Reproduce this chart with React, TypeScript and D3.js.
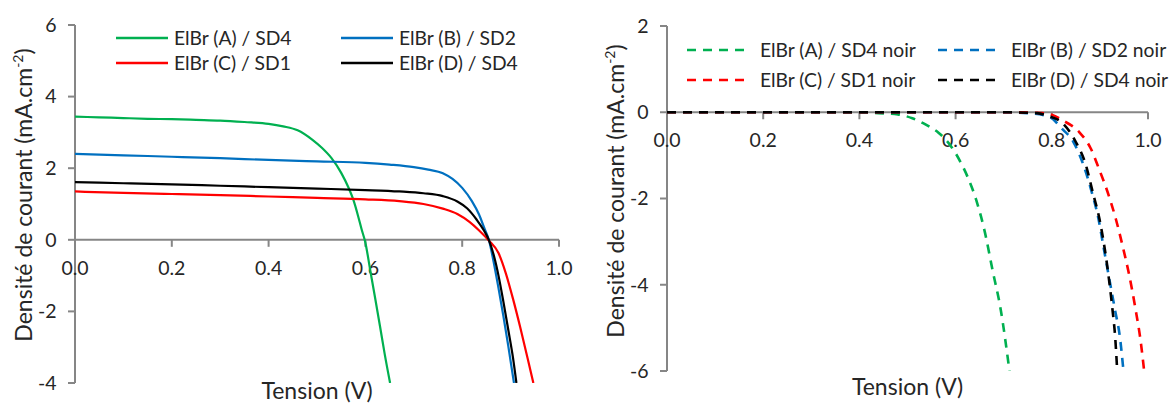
import React from "react";
import * as d3 from "d3";

// ---------- Data (left: under illumination) ----------
const voltA = [0, 0.05, 0.1, 0.15, 0.2, 0.25, 0.3, 0.35, 0.4, 0.43, 0.46, 0.49, 0.51, 0.53, 0.55, 0.565, 0.575, 0.585, 0.592, 0.6, 0.61, 0.62, 0.63, 0.64, 0.651];
const currA = [3.44, 3.42, 3.40, 3.38, 3.37, 3.35, 3.33, 3.29, 3.24, 3.17, 3.06, 2.80, 2.57, 2.28, 1.87, 1.46, 1.12, 0.66, 0.3, -0.08, -0.85, -1.62, -2.4, -3.2, -4.0];

const voltB = [0, 0.1, 0.2, 0.3, 0.4, 0.5, 0.6, 0.65, 0.7, 0.73, 0.76, 0.78, 0.8, 0.82, 0.835, 0.845, 0.855, 0.865, 0.875, 0.885, 0.895, 0.907];
const currB = [2.40, 2.36, 2.32, 2.28, 2.23, 2.19, 2.15, 2.10, 2.03, 1.96, 1.86, 1.70, 1.45, 1.08, 0.70, 0.35, 0.0, -0.62, -1.35, -2.12, -2.95, -4.0];

const voltC = [0, 0.1, 0.2, 0.3, 0.4, 0.5, 0.6, 0.67, 0.72, 0.76, 0.79, 0.815, 0.835, 0.855, 0.875, 0.89, 0.905, 0.92, 0.935, 0.947];
const currC = [1.35, 1.31, 1.28, 1.25, 1.21, 1.17, 1.13, 1.08, 1.00, 0.87, 0.72, 0.50, 0.26, -0.02, -0.37, -0.93, -1.65, -2.45, -3.3, -4.0];

const voltD = [0, 0.1, 0.2, 0.3, 0.4, 0.5, 0.6, 0.67, 0.72, 0.76, 0.79, 0.81, 0.83, 0.845, 0.855, 0.865, 0.875, 0.885, 0.895, 0.905, 0.912];
const currD = [1.61, 1.58, 1.55, 1.51, 1.47, 1.43, 1.39, 1.35, 1.30, 1.22, 1.07, 0.88, 0.56, 0.26, 0.0, -0.42, -1.0, -1.72, -2.5, -3.3, -4.0];

// ---------- Data (right: dark) ----------
const voltAd = [0, 0.1, 0.2, 0.3, 0.4, 0.44, 0.48, 0.51, 0.54, 0.565, 0.59, 0.61, 0.625, 0.643, 0.66, 0.677, 0.694, 0.712];
const currAd = [0, 0, 0, 0, 0, -0.02, -0.05, -0.14, -0.3, -0.48, -0.78, -1.15, -1.5, -2.04, -2.74, -3.67, -4.59, -6.0];

const voltBd = [0, 0.2, 0.4, 0.6, 0.7, 0.76, 0.795, 0.821, 0.845, 0.866, 0.883, 0.897, 0.907, 0.917, 0.931, 0.942, 0.949];
const currBd = [0, 0, 0, 0, 0, -0.03, -0.11, -0.38, -0.69, -1.23, -1.85, -2.47, -3.09, -3.71, -4.56, -5.25, -6.0];

const voltCd = [0, 0.2, 0.4, 0.6, 0.7, 0.78, 0.8, 0.823, 0.857, 0.881, 0.898, 0.916, 0.933, 0.947, 0.961, 0.974, 0.985, 0.992];
const currCd = [0, 0, 0, 0, 0, -0.02, -0.06, -0.19, -0.46, -0.84, -1.31, -1.85, -2.47, -3.09, -3.78, -4.56, -5.33, -6.0];

const voltDd = [0, 0.2, 0.4, 0.6, 0.7, 0.77, 0.788, 0.823, 0.85, 0.871, 0.885, 0.899, 0.909, 0.917, 0.926, 0.932, 0.936];
const currDd = [0, 0, 0, 0, 0, -0.02, -0.07, -0.26, -0.69, -1.23, -1.85, -2.47, -3.09, -3.71, -4.56, -5.25, -6.0];

const xTicks = [0, 0.2, 0.4, 0.6, 0.8, 1.0];
const yTicksLeft = [6, 4, 2, 0, -2, -4];
const yTicksRight = [2, 0, -2, -4, -6];

const namesLeft = ["ElBr (A) / SD4", "ElBr (B) / SD2", "ElBr (C) / SD1", "ElBr (D) / SD4"];
const namesRight = ["ElBr (A) / SD4 noir", "ElBr (B) / SD2 noir", "ElBr (C) / SD1 noir", "ElBr (D) / SD4 noir"];
const colors = ["#00B050", "#0070C0", "#FF0000", "#000000"];

const FONT = "Lato, 'Open Sans', sans-serif";
const AXIS = "#868686";
const TEXT = "#262626";

function zip(v: number[], j: number[]) {
  return v.map((x, i) => [x, j[i]] as [number, number]);
}

type PanelProps = {
  id: string;
  xRange: [number, number];
  yDomain: [number, number];
  yRange: [number, number];
  yTicks: number[];
  series: [number, number][][];
  dashed: boolean;
  names: string[];
  legend: { cols: number[]; rows: number[]; lineLen: number; textGap: number };
  yTitle: { x: number; y: number };
  xTitle: { y: number };
};

function Panel(p: PanelProps) {
  const x = d3.scaleLinear().domain([0, 1]).range(p.xRange);
  const y = d3.scaleLinear().domain(p.yDomain).range(p.yRange);
  const line = d3
    .line<[number, number]>()
    .x((d) => x(d[0]))
    .y((d) => y(d[1]))
    .curve(d3.curveMonotoneX);
  const x0 = x(0);
  const y0 = y(0);
  const fmt = d3.format(".1f");
  const dash = p.dashed ? "9,7" : undefined;
  const sw = p.dashed ? 2.6 : 2.2;
  return (
    <g>
      <defs>
        <clipPath id={p.id}>
          <rect x={p.xRange[0]} y={p.yRange[1]} width={p.xRange[1] - p.xRange[0] + 30} height={p.yRange[0] - p.yRange[1]} />
        </clipPath>
      </defs>
      {/* y axis */}
      <line x1={x0} x2={x0} y1={p.yRange[0]} y2={p.yRange[1]} stroke={AXIS} strokeWidth={2} />
      {p.yTicks.map((t) => (
        <g key={"yt" + t}>
          <line x1={x0 - 7} x2={x0} y1={y(t)} y2={y(t)} stroke={AXIS} strokeWidth={2} />
          <text x={x0 - 18.5} y={y(t)} dy="0.35em" textAnchor="end" fontSize={19.5} fontFamily={FONT} fill={TEXT}>
            {t}
          </text>
        </g>
      ))}
      {/* x axis */}
      <line x1={x0} x2={x(1)} y1={y0} y2={y0} stroke={AXIS} strokeWidth={2} />
      {xTicks.map((t) => (
        <g key={"xt" + t}>
          <line x1={x(t)} x2={x(t)} y1={y0} y2={y0 + 7} stroke={AXIS} strokeWidth={2} />
          <text x={x(t)} y={y0 + 35} textAnchor="middle" fontSize={19.5} fontFamily={FONT} fill={TEXT}>
            {fmt(t)}
          </text>
        </g>
      ))}
      {/* series */}
      <g clipPath={`url(#${p.id})`}>
        {p.series.map((s, i) => (
          <path key={"s" + i} d={line(s) || ""} fill="none" stroke={colors[i]} strokeWidth={sw} strokeDasharray={dash} strokeLinejoin="round" />
        ))}
      </g>
      {/* legend */}
      {p.names.map((n, i) => {
        const cx = p.legend.cols[i % 2];
        const cy = p.legend.rows[Math.floor(i / 2)];
        return (
          <g key={"lg" + i}>
            <line x1={cx} x2={cx + p.legend.lineLen} y1={cy} y2={cy} stroke={colors[i]} strokeWidth={2.6} strokeDasharray={dash} />
            <text x={cx + p.legend.lineLen + p.legend.textGap} y={cy} dy="0.35em" fontSize={19.3} fontFamily={FONT} fill={TEXT}>
              {n}
            </text>
          </g>
        );
      })}
      {/* titles */}
      <text transform={`translate(${p.yTitle.x},${p.yTitle.y}) rotate(-90)`} textAnchor="middle" fontSize={23} fontFamily={FONT} fill={TEXT}>
        Densité de courant (mA.cm
        <tspan fontSize={14} dy={-9}>-2</tspan>
        <tspan dy={9}>)</tspan>
      </text>
      <text x={(p.xRange[0] + p.xRange[1]) / 2} y={p.xTitle.y} textAnchor="middle" fontSize={23} fontFamily={FONT} fill={TEXT}>
        Tension (V)
      </text>
    </g>
  );
}

export default function App() {
  const leftSeries = [zip(voltA, currA), zip(voltB, currB), zip(voltC, currC), zip(voltD, currD)];
  const rightSeries = [zip(voltAd, currAd), zip(voltBd, currBd), zip(voltCd, currCd), zip(voltDd, currDd)];
  return (
    <svg width={1172} height={405} style={{ position: "absolute", left: 0, top: 0, background: "#fff" }}>
      <rect width={1172} height={405} fill="#fff" />
      <Panel
        id="clipL"
        xRange={[75, 559]}
        yDomain={[-4, 6]}
        yRange={[383, 25]}
        yTicks={yTicksLeft}
        series={leftSeries}
        dashed={false}
        names={namesLeft}
        legend={{ cols: [116, 341], rows: [38, 63], lineLen: 52, textGap: 6 }}
        yTitle={{ x: 32, y: 195 }}
        xTitle={{ y: 399 }}
      />
      <Panel
        id="clipR"
        xRange={[667, 1148]}
        yDomain={[-6, 2]}
        yRange={[371, 26]}
        yTicks={yTicksRight}
        series={rightSeries}
        dashed={true}
        names={namesRight}
        legend={{ cols: [687, 938], rows: [50, 80], lineLen: 60, textGap: 13 }}
        yTitle={{ x: 624, y: 191 }}
        xTitle={{ y: 395 }}
      />
    </svg>
  );
}
